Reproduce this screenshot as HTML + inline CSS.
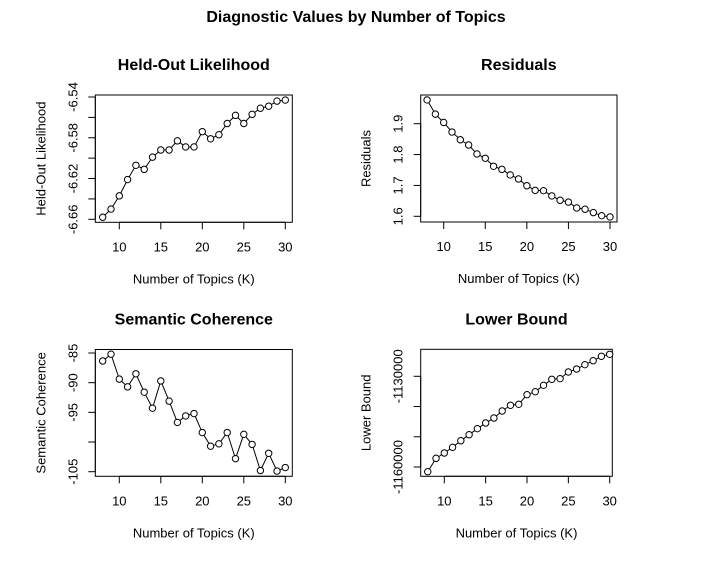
<!DOCTYPE html>
<html><head><meta charset="utf-8"><style>
body{margin:0;background:#fff}
svg{display:block;font-family:"Liberation Sans",Arial,sans-serif}
</style></head><body>
<svg id="chart" width="713" height="572" viewBox="0 0 713 572" xmlns="http://www.w3.org/2000/svg">
<rect width="713" height="572" fill="#fff"/>
<text x="356" y="22" text-anchor="middle" font-size="16" font-weight="bold">Diagnostic Values by Number of Topics</text>
</svg>
<script>
const topics = [8,9,10,11,12,13,14,15,16,17,18,19,20,21,22,23,24,25,26,27,28,29,30];
const heldout = [-6.658,-6.650,-6.637,-6.621,-6.607,-6.611,-6.599,-6.592,-6.592,-6.583,-6.589,-6.589,-6.574,-6.581,-6.577,-6.566,-6.558,-6.566,-6.557,-6.551,-6.549,-6.544,-6.543];
const residuals = [1.977,1.931,1.904,1.873,1.848,1.831,1.802,1.788,1.762,1.752,1.734,1.721,1.699,1.684,1.683,1.666,1.652,1.646,1.627,1.623,1.612,1.602,1.598];
const coherence = [-86.35,-85.2,-89.4,-90.7,-88.5,-91.6,-94.3,-89.7,-93.1,-96.7,-95.6,-95.2,-98.4,-100.7,-100.3,-98.4,-102.8,-98.7,-100.4,-104.8,-101.9,-104.9,-104.3];
const bound = [-1161560,-1157130,-1155370,-1153490,-1151300,-1149320,-1147330,-1145450,-1143790,-1141480,-1139590,-1139260,-1136090,-1135090,-1132980,-1130990,-1130790,-1128580,-1127590,-1126160,-1124840,-1123380,-1122720];
const xTicks = [10,15,20,25,30];
const hoTicks = [-6.66,-6.64,-6.62,-6.60,-6.58,-6.56,-6.54];
const hoLabels = ["-6.66","","-6.62","","-6.58","","-6.54"];
const resTicks = [1.6,1.7,1.8,1.9];
const resLabels = ["1.6","1.7","1.8","1.9"];
const cohTicks = [-105,-100,-95,-90,-85];
const cohLabels = ["-105","","-95","-90","-85"];
const lbTicks = [-1160000,-1150000,-1140000,-1130000];
const lbLabels = ["-1160000","","","-1130000"];

const NS="http://www.w3.org/2000/svg";
const svg=document.getElementById('chart');
function mk(tag,attrs,parent){const e=document.createElementNS(NS,tag);for(const k in attrs)e.setAttribute(k,attrs[k]);(parent||svg).appendChild(e);return e;}

function panel(cfg){
  const g=mk('g',{});
  
  
  const L=cfg.L,R=cfg.R,T=cfg.T,B=cfg.B;
  const xs=k=>cfg.x0+(k-10)*(cfg.x30-cfg.x0)/20;
  const ys=v=>cfg.ya+(v-cfg.va)*(cfg.yb-cfg.ya)/(cfg.vb-cfg.va);
  const box=mk('rect',{x:L,y:T,width:R-L,height:B-T,fill:'none',stroke:'#000','stroke-width':1},g);
  
  
  const xl=mk('line',{x1:xs(xTicks[0]),x2:xs(xTicks[xTicks.length-1]),y1:B,y2:B,stroke:'#000'},g);
  
  
  xTicks.forEach(t=>{
    const x=xs(t);
    mk('line',{x1:x,x2:x,y1:B,y2:B+7,stroke:'#000'},g);
    const tx=mk('text',{x:x,y:B+29,'text-anchor':'middle','font-size':13},g);
    
    
    tx.textContent=t;
  });
  const yl=mk('line',{x1:L,x2:L,y1:ys(cfg.yt[0]),y2:ys(cfg.yt[cfg.yt.length-1]),stroke:'#000'},g);
  
  
  cfg.yt.forEach((t,i)=>{
    const y=ys(t);
    mk('line',{x1:L-7,x2:L,y1:y,y2:y,stroke:'#000'},g);
    if(cfg.yl[i]){
      const tx=mk('text',{x:L-18,y:y,'text-anchor':'middle','font-size':13,transform:`rotate(-90 ${L-18} ${y})`},g);
      
      
      tx.textContent=cfg.yl[i];
    }
  });
  const tt=mk('text',{x:(L+R)/2,y:T-25,'text-anchor':'middle','font-size':16,'font-weight':'bold'},g);
  
  
  tt.textContent=cfg.title;
  const xt=mk('text',{x:(L+R)/2,y:B+61,'text-anchor':'middle','font-size':13},g);
  
  
  xt.textContent='Number of Topics (K)';
  const yx=L-50, yc=(T+B)/2;
  const yt=mk('text',{x:yx,y:yc,'text-anchor':'middle','font-size':13,transform:`rotate(-90 ${yx} ${yc})`},g);
  
  
  yt.textContent=cfg.ytitle;
  const pts=topics.map((k,i)=>[xs(k),ys(cfg.data[i])]);
  const pl=mk('polyline',{points:pts.map(p=>p.join(',')).join(' '),fill:'none',stroke:'#000','stroke-width':1},g);
  
  
  pts.forEach(p=>{
    const c=mk('circle',{cx:p[0],cy:p[1],r:3.2,fill:'#fff',stroke:'#000','stroke-width':1},g);
    
    
  });
}

panel({name:'held-out-likelihood-panel',title:'Held-Out Likelihood',ytitle:'Held-Out Likelihood',L:95.3,R:292.3,T:95,B:222.3,x0:119.3,x30:285.3,ya:97,va:-6.54,yb:219.3,vb:-6.66,yt:hoTicks,yl:hoLabels,data:heldout});
panel({name:'residuals-panel',title:'Residuals',ytitle:'Residuals',L:420.7,R:617,T:95,B:222,x0:443.7,x30:610,ya:123.7,va:1.9,yb:216.3,vb:1.6,yt:resTicks,yl:resLabels,data:residuals});
panel({name:'semantic-coherence-panel',title:'Semantic Coherence',ytitle:'Semantic Coherence',L:95.3,R:292.3,T:349.5,B:476.3,x0:119.3,x30:285.3,ya:353,va:-85,yb:471.7,vb:-105,yt:cohTicks,yl:cohLabels,data:coherence});
panel({name:'lower-bound-panel',title:'Lower Bound',ytitle:'Lower Bound',L:420.7,R:612.3,T:349.3,B:476.3,x0:444.3,x30:609.7,ya:376.3,va:-1130000,yb:467,vb:-1160000,yt:lbTicks,yl:lbLabels,data:bound});
</script>
</body></html>
